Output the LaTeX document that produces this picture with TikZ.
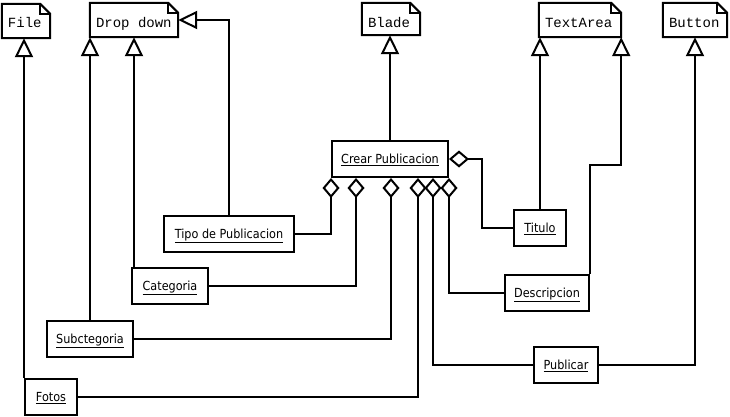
\documentclass[tikz,border=0pt]{standalone}
\usepackage{fontspec}
\setmainfont{DejaVu Sans Condensed}
\newfontfamily\notefont{Liberation Mono}
\usetikzlibrary{arrows.meta}
\tikzset{
  x=1pt,y=-1pt,
  ln/.style={line width=2pt},
  note/.style={draw=none,inner sep=0pt},
  notetext/.style={inner sep=0pt,anchor=base west,font=\notefont\fontsize{14}{16}\selectfont},
  cls/.style={draw,ln,fill=white,inner sep=0pt,text height=13pt,text depth=4pt,font=\fontsize{12.5}{15}\selectfont},
  inh/.style={ln,-{Triangle[open,length=19pt,width=18pt,fill=white]}},
  agg/.style={ln,-{Diamond[open,length=20pt,width=17pt,fill=white]}},
}
\newcommand\foldnote[1]{%
  \draw[ln,fill=white] (#1.south west) |- ([xshift=-10pt]#1.north east) -- ([yshift=-10pt]#1.north east) |- cycle;
  \draw[ln] ([xshift=-10pt]#1.north east) |- ([yshift=-10pt]#1.north east);
}
\begin{document}
\begin{tikzpicture}
\useasboundingbox[fill=white] (0,0) rectangle (730,417);
% notes
\node[note,minimum width=48pt,minimum height=34pt] (file) at (26,21) {};
\node[note,minimum width=88pt,minimum height=34pt] (dropdown) at (134,20) {};
\node[note,minimum width=58pt,minimum height=32pt] (blade) at (391,19) {};
\node[note,minimum width=82pt,minimum height=34pt] (textarea) at (580,20) {};
\node[note,minimum width=64pt,minimum height=34pt] (button) at (695,20) {};
\foldnote{file}\foldnote{dropdown}\foldnote{blade}\foldnote{textarea}\foldnote{button}
\coordinate (nb) at (0,28);
\node[notetext] (tfile) at ([xshift=6pt]file.west |- nb) {File};
\node[notetext] (tdrop) at ([xshift=6pt]dropdown.west |- nb) {Drop down};
\node[notetext] (tblade) at ([xshift=6pt]blade.west |- nb) {Blade};
\node[notetext] (ttext) at ([xshift=6pt]textarea.west |- nb) {TextArea};
\node[notetext] (tbutton) at ([xshift=6pt]button.west |- nb) {Button};
% classes
\node[cls,minimum width=116pt,minimum height=36pt] (crear) at (390,159) {\underline{Crear Publicacion}};
\node[cls,minimum width=130pt,minimum height=36pt] (tipo) at (229,234) {\underline{Tipo de Publicacion}};
\node[cls,minimum width=76pt,minimum height=36pt] (categoria) at (170,286) {\underline{Categoria}};
\node[cls,minimum width=86pt,minimum height=36pt] (subcat) at (90,339) {\underline{Subctegoria}};
\node[cls,minimum width=52pt,minimum height=36pt] (fotos) at (51,397) {\underline{Fotos}};
\node[cls,minimum width=52pt,minimum height=36pt] (titulo) at (540,228) {\underline{Titulo}};
\node[cls,minimum width=84pt,minimum height=36pt] (descr) at (547,293) {\underline{Descripcion}};
\node[cls,minimum width=64pt,minimum height=36pt] (publicar) at (566,365) {\underline{Publicar}};
\coordinate (tk) at (482,0);
\coordinate (dk) at (0,165);
% inheritance
\draw[inh] (tipo.north) |- (dropdown.east);
\draw[inh] (categoria.north -| dropdown.south) -- (dropdown.south);
\draw[inh] (subcat.north) -- (subcat.north |- dropdown.south);
\draw[inh] (fotos.north west) -- (fotos.north west |- file.south);
\draw[inh] (crear.north) -- (crear.north |- blade.south);
\draw[inh] (titulo.north) -- (titulo.north |- textarea.south west);
\draw[inh] (descr.north east) |- (dk -| textarea.south east) -- (textarea.south east);
\draw[inh] (publicar.east) -| (button.south);
% aggregation
\draw[agg] (tipo.east) -| (crear.south west);
\draw[agg] (categoria.east) -| ([xshift=25pt]crear.south west);
\draw[agg] (subcat.east) -| ([xshift=1pt]crear.south);
\draw[agg] (fotos.east) -| ([xshift=-31pt]crear.south east);
\draw[agg] (publicar.west) -| ([xshift=-16pt]crear.south east);
\draw[agg] (descr.west) -| (crear.south east);
\draw[agg] (titulo.west) -| (tk |- crear.east) -- (crear.east);
\end{tikzpicture}
\end{document}
